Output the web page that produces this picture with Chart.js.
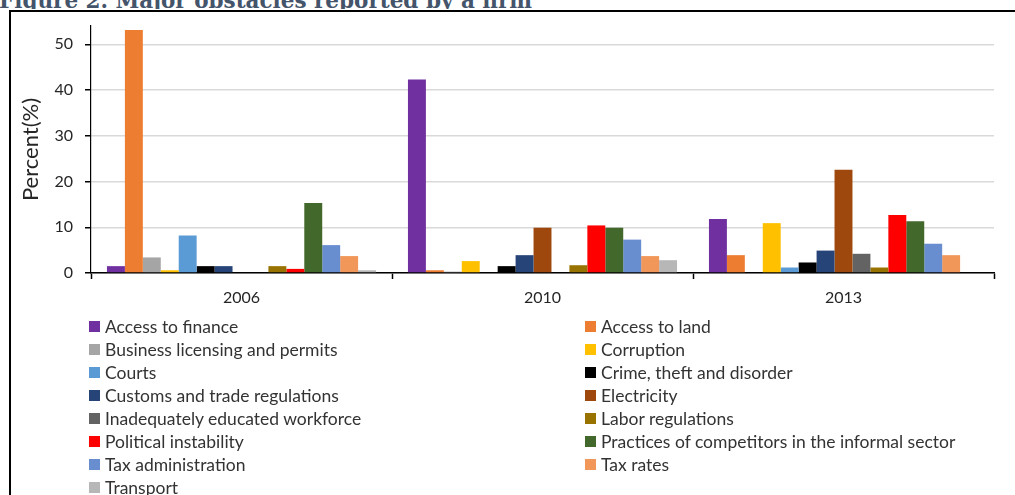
<!DOCTYPE html>
<html>
<head>
<meta charset="utf-8">
<script src="https://cdn.jsdelivr.net/npm/chart.js@4/dist/chart.umd.min.js"></script>
<style>
  html, body { margin: 0; padding: 0; background: #fff; }
  body { width: 1015px; height: 495px; position: relative; overflow: hidden; }
  #titleClip { position: absolute; left: 0; top: 0; width: 1015px; height: 9px; overflow: hidden; }
  #title { position: absolute; left: -1px; top: -12px; line-height: 1; white-space: nowrap;
           font: bold 21.5px "DejaVu Serif", serif; color: #44546A; }
  #frame { position: absolute; left: 9px; top: 10px; width: 1020px; height: 500px;
           border-left: 2px solid #000; border-top: 2px solid #000; }
  #chartBox { position: absolute; left: 0; top: 0; width: 1015px; height: 495px; }
  #legend { position: absolute; left: 89px; top: 315px; display: grid;
            grid-template-columns: 496px 400px; grid-auto-rows: 23px;
            font: 17.5px Lato, sans-serif; color: #333; }
  .item { display: flex; align-items: center; white-space: nowrap; }
  .swatch { width: 11px; height: 11px; margin-right: 5px; flex: none; }
</style>
</head>
<body>
<div id="titleClip"><div id="title">Figure 2. Major obstacles reported by a firm</div></div>
<div id="frame"></div>
<div id="chartBox"><canvas id="myChart" width="1015" height="495"></canvas></div>
<div id="legend"></div>
<script>
let years = ['2006', '2010', '2013'];

let accessFinance = [1.5, 42.3, 11.8];
let accessLand = [53.1, 0.6, 3.9];
let licensing = [3.4, 0.3, 0];
let corruption = [0.6, 2.6, 10.9];
let courts = [8.2, 0, 1.2];
let crime = [1.5, 1.5, 2.3];
let customs = [1.5, 3.9, 4.9];
let electricity = [0, 9.9, 22.6];
let workforce = [0, 0, 4.2];
let labor = [1.5, 1.7, 1.2];
let political = [0.9, 10.4, 12.7];
let informal = [15.3, 9.9, 11.3];
let taxAdmin = [6.1, 7.3, 6.4];
let taxRates = [3.7, 3.7, 3.9];
let transport = [0.6, 2.8, 0];

let seriesNames = [
    'Access to finance', 'Access to land', 'Business licensing and permits', 'Corruption',
    'Courts', 'Crime, theft and disorder', 'Customs and trade regulations', 'Electricity',
    'Inadequately educated workforce', 'Labor regulations', 'Political instability',
    'Practices of competitors in the informal sector', 'Tax administration', 'Tax rates', 'Transport'
];
let seriesValues = [
    accessFinance, accessLand, licensing, corruption, courts, crime, customs, electricity,
    workforce, labor, political, informal, taxAdmin, taxRates, transport
];
let seriesColors = [
    '#7030A0', '#ED7D31', '#A5A5A5', '#FFC000', '#5B9BD5', '#000000', '#264478', '#9E480E',
    '#636363', '#997300', '#FF0000', '#43682B', '#698ED0', '#F1975A', '#B7B7B7'
];

function DrawChart() {
    let datasets = [];
    for (let i = 0; i < seriesNames.length; i++) {
        datasets.push({
            label: seriesNames[i],
            data: seriesValues[i],
            backgroundColor: seriesColors[i],
            borderWidth: 0,
            categoryPercentage: 0.894,
            barPercentage: 1
        });
    }

    const config = {
        type: 'bar',
        data: { labels: years, datasets: datasets },
        options: {
            responsive: false,
            animation: false,
            layout: { padding: { left: 0, right: 21, top: 26, bottom: 192 } },
            plugins: { legend: { display: false }, tooltip: { enabled: false } },
            scales: {
                x: {
                    afterFit: (scale) => { scale.height = 30; },
                    grid: { offset: true, drawOnChartArea: false, drawTicks: true,
                            tickLength: 6, tickColor: '#000', tickWidth: 1.5 },
                    border: { color: '#000', width: 1.5 },
                    ticks: { padding: 9, color: '#262626', font: { family: 'Lato', size: 16 } }
                },
                y: {
                    min: 0,
                    max: 54,
                    afterFit: (scale) => { scale.width = 91; },
                    grid: { color: '#D9D9D9', lineWidth: 1.5, tickLength: 6, tickColor: '#000' },
                    border: { color: '#000', width: 1.2 },
                    ticks: { stepSize: 10, includeBounds: false, padding: 12, color: '#262626',
                             font: { family: 'Lato', size: 16 } },
                    title: { display: true, text: 'Percent(%)', color: '#262626',
                             font: { family: 'Lato', size: 22 }, padding: { top: 18, bottom: 0 } }
                }
            }
        }
    };

    const myChart = new Chart(document.getElementById('myChart').getContext('2d'), config);

    // legend in two columns, built from the chart's datasets
    const legend = document.getElementById('legend');
    myChart.data.datasets.forEach((ds) => {
        const item = document.createElement('div');
        item.className = 'item';
        const sw = document.createElement('span');
        sw.className = 'swatch';
        sw.style.background = ds.backgroundColor;
        const txt = document.createElement('span');
        txt.textContent = ds.label;
        item.appendChild(sw);
        item.appendChild(txt);
        legend.appendChild(item);
    });
}

DrawChart();
</script>
</body>
</html>
